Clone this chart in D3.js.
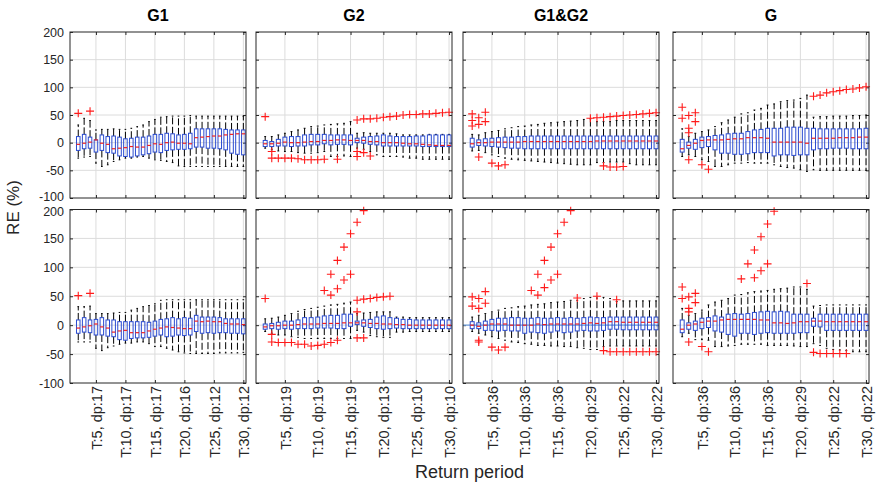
<!DOCTYPE html>
<html><head><meta charset="utf-8">
<script src="https://cdn.jsdelivr.net/npm/d3@7/dist/d3.min.js"></script>
<style>
body{margin:0;background:#fff}
svg{display:block}
text{font-family:"Liberation Sans",Arial,Helvetica,sans-serif}
</style>
</head><body>
<svg id="c" width="877" height="485"></svg>
<script>
// ---------- categories / ticks ----------
const returnPeriods = [2,3,4,5,6,7,8,9,10,11,12,13,14,15,16,17,18,19,20,21,22,23,24,25,26,27,28,29,30];
const yTicks = [-100,-50,0,50,100,150,200];
const xTicks = [5,10,15,20,25,30];
const groups = ["G1","G2","G1&G2","G"];
const labelsG1  = ["T:5, dp:17","T:10, dp:17","T:15, dp:17","T:20, dp:16","T:25, dp:12","T:30, dp:12"];
const labelsG2  = ["T:5, dp:19","T:10, dp:19","T:15, dp:19","T:20, dp:13","T:25, dp:10","T:30, dp:10"];
const labelsG12 = ["T:5, dp:36","T:10, dp:36","T:15, dp:36","T:20, dp:29","T:25, dp:22","T:30, dp:22"];
const labelsG   = ["T:5, dp:36","T:10, dp:36","T:15, dp:36","T:20, dp:29","T:25, dp:22","T:30, dp:22"];

// ---------- row 1 : G1 ----------
const g1TopQ1  = [-14,-11,-10,-17,-14,-18,-19,-24,-25,-26,-24,-22,-20,-17,-18,-14,-13,-12,-12,-11,-8,-8,-10,-10,-11,-13,-19,-21,-22];
const g1TopMed = [-3,-1,1,5,-1,-3,-11,-10,-9,-7,-8,-8,-5,-2,-3,0,1,-1,-1,-2,9,10,11,12,12,14,15,16,16];
const g1TopQ3  = [11,15,10,5,14,11,12,10,7,8,10,10,12,15,15,17,16,14,15,17,25,25,25,25,25,24,23,23,23];
const g1TopLo  = [-28,-26,-25,-37,-43,-40,-34,-31,-28,-28,-26,-25,-28,-31,-32,-34,-36,-42,-43,-43,-43,-43,-43,-43,-43,-43,-43,-43,-43];
const g1TopHi  = [32,44,40,23,24,24,25,24,24,26,29,32,38,42,46,47,48,48,48,49,48,48,48,48,48,48,48,48,48];
const g1TopOut = [[2,53],[4,57]];

// ---------- row 1 : G2 ----------
const g2TopQ1  = [-7,-7,-6,-6,-7,-6,-6,-4,-4,-2,-4,-3,-3,-4,0,-1,-3,-4,-6,-6,-6,-6,-6,-6,-7,-7,-7,-7,-7];
const g2TopMed = [-2,-2,-1,1,0,0,1,2,2,4,4,5,5,4,4,4,2,2,0,0,0,-1,-2,-2,-3,-4,-5,-5,-5];
const g2TopQ3  = [4,2,6,10,11,11,14,15,15,15,14,14,14,14,8,10,11,12,14,12,11,11,11,12,12,14,14,14,14];
const g2TopLo  = [-10,-13,-15,-16,-16,-18,-19,-19,-18,-16,-25,-25,-24,-25,-10,-12,-16,-22,-25,-25,-25,-26,-28,-28,-30,-30,-30,-30,-30];
const g2TopHi  = [11,11,14,17,20,23,26,29,30,32,33,34,35,38,17,18,17,17,17,17,16,14,14,14,14,15,15,15,15];
const g2TopOut = [[2,47],[3,-16],[3,-28],[4,-28],[5,-28],[6,-28],[7,-29],[8,-31],[9,-31],[10,-31],[11,-30],[13,-30],
  [16,41],[16,-16],[16,-25],[17,43],[17,-18],[18,43],[18,-24],[19,44],[20,46],[21,47],[22,48],[23,50],[24,51],[25,51],[26,52],[27,52],[28,53],[29,54],[30,55]];

// ---------- row 1 : G1&G2 ----------
const g12TopQ1  = [-8,-5,-6,-7,-8,-9,-10,-10,-11,-11,-11,-11,-11,-11,-11,-11,-11,-11,-11,-11,-11,-11,-11,-11,-11,-11,-11,-11,-11];
const g12TopMed = [-2,0,0,1,1,1,1,1,2,2,2,2,2,2,2,2,2,2,2,3,3,3,3,3,3,3,3,3,3];
const g12TopQ3  = [8,5,7,8,9,10,10,11,11,12,12,12,12,12,12,12,12,12,12,12,12,12,12,12,12,12,12,12,12];
const g12TopLo  = [-15,-14,-18,-22,-25,-28,-30,-31,-32,-33,-34,-35,-36,-37,-38,-39,-40,-40,-40,-36,-36,-35,-35,-35,-38,-40,-40,-40,-40];
const g12TopHi  = [15,14,18,20,22,25,27,29,30,32,33,35,36,37,38,39,40,42,43,38,38,38,40,40,40,40,40,40,40];
const g12TopOut = [[2,52],[2,40],[2,30],[3,45],[3,33],[3,-26],[4,55],[4,38],[5,-37],[6,-42],[7,-40],
  [20,44],[21,45],[22,46],[23,47],[24,48],[25,49],[26,50],[27,51],[28,52],[29,53],[30,54],[22,-42],[23,-44],[24,-44],[25,-43]];

// ---------- row 1 : G ----------
const gTopQ1  = [-17,-10,-12,-9,-7,-13,-19,-19,-21,-21,-20,-18,-18,-18,-24,-22,-22,-23,-22,-22,-13,-11,-11,-10,-10,-10,-11,-11,-11];
const gTopMed = [-11,-5,-1,4,5,5,5,6,7,7,9,9,9,8,1,1,1,1,1,-1,8,8,8,8,9,9,9,10,10];
const gTopQ3  = [6,1,6,10,11,13,14,16,17,17,20,23,24,26,26,26,28,28,28,26,26,25,25,25,25,25,25,25,26];
const gTopLo  = [-25,-22,-25,-31,-34,-43,-43,-40,-37,-37,-36,-37,-37,-37,-40,-43,-45,-46,-49,-52,-49,-50,-50,-50,-50,-50,-50,-50,-50];
const gTopHi  = [25,11,17,20,23,29,36,41,46,52,54,59,62,68,70,74,76,77,80,86,46,47,47,48,48,48,49,49,50];
const gTopOut = [[2,64],[2,44],[3,49],[3,26],[3,18],[3,-31],[4,54],[4,38],[5,-40],[6,-48],
  [22,84],[23,86],[24,90],[25,92],[26,94],[27,96],[28,97],[29,99],[30,101]];

// ---------- row 2 : G1 ----------
const g1BotQ1  = [-14,-12,-13,-17,-17,-19,-20,-25,-26,-23,-22,-22,-21,-19,-17,-20,-19,-17,-18,-17,-11,-14,-13,-14,-13,-13,-14,-14,-15];
const g1BotMed = [-5,-3,-1,2,-3,-5,-12,-10,-9,-13,-13,-13,-10,-7,-5,-3,-4,-5,-6,-6,7,6,7,6,6,3,2,2,1];
const g1BotQ3  = [9,13,9,10,13,9,9,6,6,6,6,6,5,7,10,11,13,11,13,12,17,14,14,14,13,11,11,11,11];
const g1BotLo  = [-29,-29,-29,-40,-44,-39,-36,-33,-31,-31,-29,-29,-32,-37,-37,-40,-43,-46,-48,-49,-49,-49,-49,-49,-48,-48,-48,-48,-47];
const g1BotHi  = [32,32,33,20,20,20,21,22,22,26,29,32,34,37,43,44,44,44,44,44,44,44,44,44,44,44,44,44,44];
const g1BotOut = [[2,51],[4,55]];

// ---------- row 2 : G2 ----------
const g2BotQ1  = [-7,-6,-7,-6,-7,-6,-6,-6,-5,-5,-5,-6,-6,-2,1,-2,-4,-6,-7,-6,-5,-6,-6,-6,-6,-6,-6,-6,-6];
const g2BotMed = [-3,-1,-1,0,0,1,2,2,2,3,3,3,4,4,4,4,3,3,2,2,1,1,0,0,0,0,0,0,0];
const g2BotQ3  = [2,3,5,7,7,9,13,13,14,16,17,17,19,19,7,9,10,14,16,13,12,10,10,9,9,9,9,9,9];
const g2BotLo  = [-11,-14,-17,-17,-20,-21,-23,-23,-23,-23,-23,-23,-23,-23,-9,-12,-18,-20,-21,-21,-12,-12,-11,-11,-11,-11,-11,-11,-11];
const g2BotHi  = [11,12,14,17,20,24,27,29,31,33,35,36,38,40,20,21,22,23,23,23,14,14,13,13,13,13,13,13,13];
const g2BotOut = [[2,46],[3,-16],[3,-29],[4,-30],[5,-30],[6,-30],[7,-33],[8,-33],[9,-36],[10,-35],[11,-33],[12,-30],[13,-26],
  [11,60],[12,52],[12,88],[13,63],[13,112],[14,78],[14,135],[15,88],[15,158],[16,178],[17,198],
  [16,23],[16,43],[17,45],[18,46],[19,48],[20,49],[21,50],[16,-22],[17,-22]];

// ---------- row 2 : G1&G2 ----------
const g12BotQ1  = [-6,-6,-9,-9,-10,-9,-10,-10,-14,-12,-13,-14,-12,-10,-13,-12,-10,-9,-10,-10,-9,-7,-7,-8,-8,-8,-8,-8,-8];
const g12BotMed = [0,-2,0,2,2,2,0,0,0,0,2,1,2,2,2,2,2,3,4,3,4,6,6,5,5,5,5,5,5];
const g12BotQ3  = [6,4,7,10,12,12,13,13,12,12,13,12,12,13,12,13,12,13,14,13,13,14,14,14,14,14,14,14,14];
const g12BotLo  = [-11,-14,-17,-20,-23,-26,-29,-30,-32,-33,-35,-35,-36,-36,-37,-37,-39,-40,-42,-42,-37,-36,-36,-36,-36,-36,-36,-36,-36];
const g12BotHi  = [14,17,20,23,26,29,30,32,33,35,36,37,39,40,41,43,43,46,48,47,48,46,41,42,42,42,42,42,42];
const g12BotOut = [[2,49],[2,33],[3,46],[3,29],[3,-26],[3,-29],[4,58],[4,38],[5,-38],[6,-43],[7,-38],
  [11,60],[12,52],[12,88],[13,65],[13,112],[14,78],[14,135],[15,88],[15,158],[16,178],[17,198],
  [18,47],[21,50],[24,44],[22,-44],[23,-46],[24,-46],[25,-46],[26,-46],[27,-46],[28,-46],[29,-46],[30,-46]];

// ---------- row 2 : G ----------
const gBotQ1  = [-13,-7,-9,-6,-4,-10,-12,-16,-19,-14,-14,-16,-14,-13,-14,-14,-14,-14,-13,-13,-2,-3,-9,-9,-9,-9,-9,-9,-9];
const gBotMed = [-7,0,2,5,7,7,9,10,10,10,10,10,9,9,4,4,3,4,6,6,7,7,6,6,6,6,6,6,6];
const gBotQ3  = [9,4,7,12,13,16,14,19,20,19,20,22,23,24,23,24,23,19,19,19,12,19,19,19,19,19,19,19,19];
const gBotLo  = [-20,-14,-25,-25,-26,-37,-37,-36,-35,-33,-33,-33,-33,-35,-35,-35,-35,-36,-37,-37,-32,-35,-40,-42,-43,-44,-46,-46,-46];
const gBotHi  = [29,17,20,26,35,40,43,46,52,53,56,58,59,60,62,63,64,66,66,62,33,34,35,35,35,35,35,35,35];
const gBotOut = [[2,66],[2,46],[3,49],[3,29],[3,23],[3,-29],[4,55],[4,39],[5,-37],[6,-46],
  [11,80],[12,106],[13,82],[13,130],[14,94],[14,153],[15,106],[15,175],[16,197],[21,72],
  [22,-47],[23,-49],[24,-49],[25,-49],[26,-49],[27,-49]];

// ---------- layout ----------
const W = 877, H = 485;
const colX = [[70,246],[256,452],[463,659],[673,869]];
const rowY = [[32,198],[209.5,383]];
const tickLabels = [labelsG1, labelsG2, labelsG12, labelsG];

const panels = [
  {c:0,r:0,q1:g1TopQ1,med:g1TopMed,q3:g1TopQ3,lo:g1TopLo,hi:g1TopHi,out:g1TopOut},
  {c:1,r:0,q1:g2TopQ1,med:g2TopMed,q3:g2TopQ3,lo:g2TopLo,hi:g2TopHi,out:g2TopOut},
  {c:2,r:0,q1:g12TopQ1,med:g12TopMed,q3:g12TopQ3,lo:g12TopLo,hi:g12TopHi,out:g12TopOut},
  {c:3,r:0,q1:gTopQ1,med:gTopMed,q3:gTopQ3,lo:gTopLo,hi:gTopHi,out:gTopOut},
  {c:0,r:1,q1:g1BotQ1,med:g1BotMed,q3:g1BotQ3,lo:g1BotLo,hi:g1BotHi,out:g1BotOut},
  {c:1,r:1,q1:g2BotQ1,med:g2BotMed,q3:g2BotQ3,lo:g2BotLo,hi:g2BotHi,out:g2BotOut},
  {c:2,r:1,q1:g12BotQ1,med:g12BotMed,q3:g12BotQ3,lo:g12BotLo,hi:g12BotHi,out:g12BotOut,zero:true},
  {c:3,r:1,q1:gBotQ1,med:gBotMed,q3:gBotQ3,lo:gBotLo,hi:gBotHi,out:gBotOut}
];

const svg = d3.select("#c");
svg.append("rect").attr("width",W).attr("height",H).attr("fill","#fff");

const AXC = "#262626", GRID = "#dcdcdc";
const BOXC = "#2a4bd0", MEDC = "#f02020", OUTC = "#ff1a1a";

panels.forEach(p => {
  const [x0,x1] = colX[p.c], [y0,y1] = rowY[p.r];
  const x = d3.scaleLinear().domain([0.6,30.45]).range([x0,x1]);
  const y = d3.scaleLinear().domain([-100,200]).range([y1,y0]);
  const g = svg.append("g");

  // grid
  g.append("g").selectAll("line").data(yTicks.slice(1,-1)).join("line")
    .attr("x1",x0).attr("x2",x1).attr("y1",d=>y(d)).attr("y2",d=>y(d))
    .attr("stroke",GRID).attr("stroke-width",1);
  g.append("g").selectAll("line").data(xTicks).join("line")
    .attr("x1",d=>x(d)).attr("x2",d=>x(d)).attr("y1",y0).attr("y2",y1)
    .attr("stroke",GRID).attr("stroke-width",1);

  // axes (inward ticks)
  const styleAxis = sel => {
    sel.select(".domain").remove();
    sel.selectAll(".tick line").attr("stroke",AXC);
    sel.selectAll("text").attr("fill",AXC);
  };
  g.append("g").attr("transform",`translate(${x0},0)`)
    .call(d3.axisLeft(y).tickValues(yTicks).tickSizeInner(-3).tickSizeOuter(0).tickPadding(6)
      .tickFormat(p.c===0 ? (d=>String(d)) : ""))
    .call(styleAxis)
    .call(s=>s.selectAll("text").attr("font-size","12.5px").attr("font-family",null)
      .attr("dy",d=> (p.r===0 && d===-100) ? "0.2em" : (p.r===1 && d===200) ? "0.45em" : "0.32em"));
  g.append("g").attr("transform",`translate(${x1},0)`)
    .call(d3.axisRight(y).tickValues(yTicks).tickSizeInner(-3).tickSizeOuter(0).tickFormat(""))
    .call(styleAxis);
  g.append("g").attr("transform",`translate(0,${y0})`)
    .call(d3.axisTop(x).tickValues(xTicks).tickSizeInner(-3).tickSizeOuter(0).tickFormat(""))
    .call(styleAxis);
  const labs = tickLabels[p.c];
  const bax = g.append("g").attr("transform",`translate(0,${y1})`)
    .call(d3.axisBottom(x).tickValues(xTicks).tickSizeInner(-3).tickSizeOuter(0)
      .tickFormat(p.r===1 ? ((d,i)=>labs[i]) : ""))
    .call(styleAxis);
  if (p.r===1) {
    bax.selectAll("text")
      .attr("font-size","14.5px").attr("font-family",null)
      .attr("transform","rotate(-90)")
      .attr("x",-3).attr("y",0).attr("dy","0.36em")
      .attr("text-anchor","end");
  }

  // zero reference line
  if (p.zero) {
    g.append("line").attr("x1",x0).attr("x2",x1).attr("y1",y(0)).attr("y2",y(0))
      .attr("stroke","#6f9fdc").attr("stroke-width",1.3);
  }

  // boxes
  const unit = x(2)-x(1), bw = unit*0.6, cw = unit*0.28;
  const rows = returnPeriods.map((t,i)=>({t,q1:p.q1[i],med:p.med[i],q3:p.q3[i],lo:p.lo[i],hi:p.hi[i]}));
  const bx = g.append("g").selectAll("g").data(rows).join("g");
  bx.append("line").attr("x1",d=>x(d.t)).attr("x2",d=>x(d.t))
    .attr("y1",d=>y(d.q3)).attr("y2",d=>y(d.hi))
    .attr("stroke","#000").attr("stroke-width",1).attr("stroke-dasharray","7,2.5");
  bx.append("line").attr("x1",d=>x(d.t)).attr("x2",d=>x(d.t))
    .attr("y1",d=>y(d.q1)).attr("y2",d=>y(d.lo))
    .attr("stroke","#000").attr("stroke-width",1).attr("stroke-dasharray","7,2.5");
  bx.append("line").attr("x1",d=>x(d.t)-cw/2).attr("x2",d=>x(d.t)+cw/2)
    .attr("y1",d=>y(d.hi)).attr("y2",d=>y(d.hi)).attr("stroke","#000");
  bx.append("line").attr("x1",d=>x(d.t)-cw/2).attr("x2",d=>x(d.t)+cw/2)
    .attr("y1",d=>y(d.lo)).attr("y2",d=>y(d.lo)).attr("stroke","#000");
  bx.append("rect").attr("x",d=>x(d.t)-bw/2).attr("width",bw)
    .attr("y",d=>y(d.q3)).attr("height",d=>Math.max(0.5,y(d.q1)-y(d.q3)))
    .attr("fill","none").attr("stroke",BOXC).attr("stroke-width",1);
  bx.append("line").attr("x1",d=>x(d.t)-bw/2).attr("x2",d=>x(d.t)+bw/2)
    .attr("y1",d=>y(d.med)).attr("y2",d=>y(d.med))
    .attr("stroke",MEDC).attr("stroke-width",1.2);

  // outliers
  const s = 4;
  g.append("g").selectAll("path").data(p.out).join("path")
    .attr("d",d=>{const cx=x(d[0]), cy=y(d[1]); return `M${cx-s},${cy}H${cx+s}M${cx},${cy-s}V${cy+s}`;})
    .attr("stroke",OUTC).attr("stroke-width",1.1).attr("fill","none");

  // frame
  g.append("rect").attr("x",x0).attr("y",y0).attr("width",x1-x0).attr("height",y1-y0)
    .attr("fill","none").attr("stroke",AXC).attr("stroke-width",1);
});

// titles
groups.forEach((t,i)=>{
  svg.append("text").attr("x",(colX[i][0]+colX[i][1])/2).attr("y",21)
    .attr("text-anchor","middle").attr("font-size","16px").attr("font-weight","bold")
    .attr("fill","#000").text(t);
});
// axis labels
svg.append("text").attr("transform","translate(19,207.5) rotate(-90)")
  .attr("text-anchor","middle").attr("font-size","17px").attr("fill",AXC).text("RE (%)");
svg.append("text").attr("x",469.5).attr("y",478)
  .attr("text-anchor","middle").attr("font-size","18px").attr("fill",AXC).text("Return period");
</script>
</body></html>
